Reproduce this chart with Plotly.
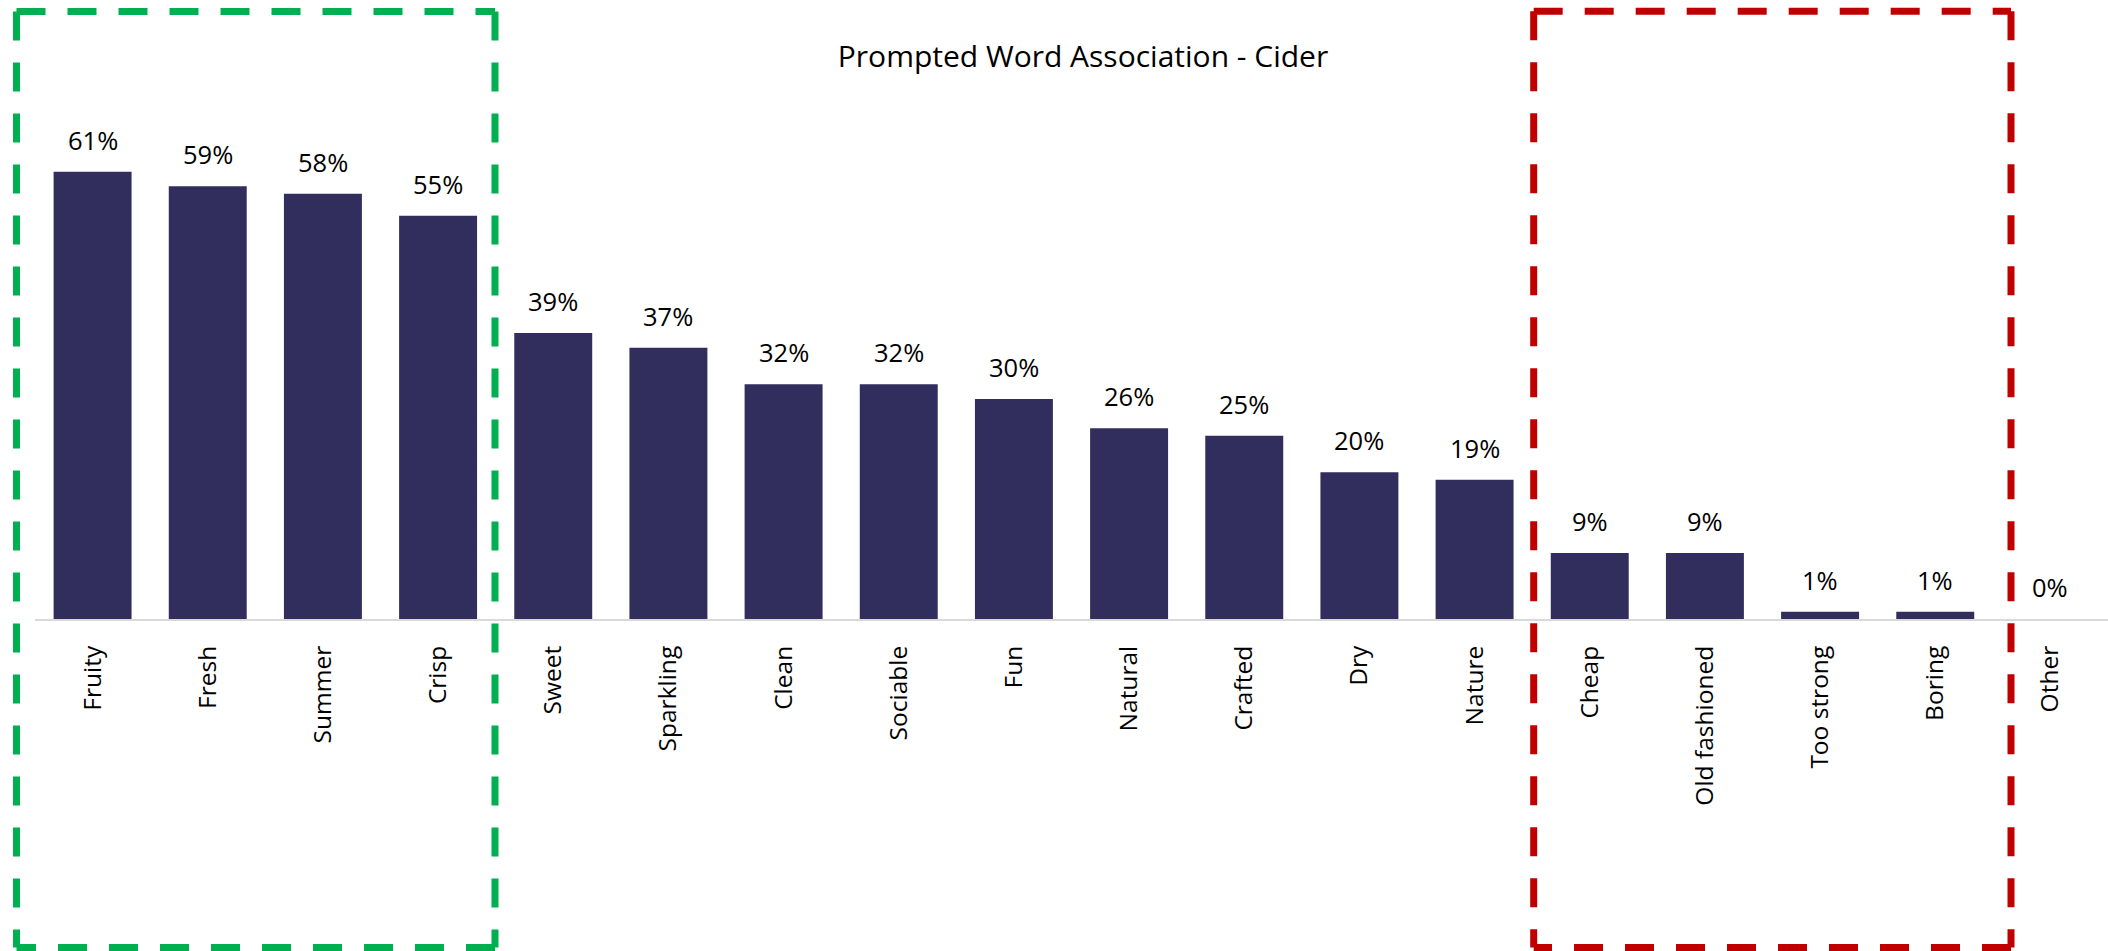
import plotly.graph_objects as go

# Survey results: share of respondents associating each word with cider
words = ["Fruity", "Fresh", "Summer", "Crisp", "Sweet", "Sparkling", "Clean",
         "Sociable", "Fun", "Natural", "Crafted", "Dry", "Nature", "Cheap",
         "Old fashioned", "Too strong", "Boring", "Other"]
share_pct = [61, 59, 58, 55, 39, 37, 32, 32, 30, 26, 25, 20, 19, 9, 9, 1, 1, 0]

BAR_COLOR = "#312E5E"
GREEN = "#00B050"
RED = "#C00000"
FONT = "Open Sans"

W, H = 2108, 951
ML, MR, MT, MB = 35, 0, 80, 332
plot_w = W - ML - MR
plot_h = H - MT - MB
Y_MAX = 73.5


def px_x(px):
    return (px - ML) / plot_w


def px_y(py):
    return (H - MB - py) / plot_h


fig = go.Figure(
    go.Bar(
        x=words,
        y=share_pct,
        marker=dict(color=BAR_COLOR, line=dict(width=0)),
        hoverinfo="x+y",
    )
)

# value labels above each bar
for w, v in zip(words, share_pct):
    fig.add_annotation(
        x=w, y=v, text=f"{v}%", showarrow=False,
        xref="x", yref="y", yanchor="bottom", yshift=13,
        font=dict(family=FONT, size=25.5, color="#000000"),
    )


def dashed_box(x0, x1, y0, y1, color, dash="29px,22px"):
    sides = [
        (x0, y1, x1, y1),  # top
        (x1, y0, x0, y0),  # bottom
        (x0, y1, x0, y0),  # left
        (x1, y1, x1, y0),  # right
    ]
    for ax, ay, bx, by in sides:
        fig.add_shape(
            type="line", xref="paper", yref="paper",
            x0=ax, y0=ay, x1=bx, y1=by,
            line=dict(color=color, width=7, dash=dash),
        )


# positive associations
dashed_box(px_x(16.5), px_x(495), px_y(947.5), px_y(11.5), GREEN)
# negative associations
dashed_box(px_x(1533.7), px_x(2011), px_y(947.5), px_y(11.2), RED)

fig.update_layout(
    width=W, height=H,
    margin=dict(l=ML, r=MR, t=MT, b=MB, pad=0),
    paper_bgcolor="white", plot_bgcolor="white",
    bargap=0.323,
    showlegend=False,
    title=dict(
        text="Prompted Word Association - Cider",
        x=1083 / W, xref="container", xanchor="center",
        y=1 - 56 / H, yref="container", yanchor="middle",
        font=dict(family=FONT, size=30, color="#000000"),
    ),
    font=dict(family=FONT, size=24.5, color="#000000"),
)

fig.update_xaxes(
    type="category",
    tickangle=-90,
    ticks="",
    showgrid=False,
    showline=True, linecolor="#D9D9D9", linewidth=2,
    tickfont=dict(family=FONT, size=24.5, color="#000000"),
    ticklabelstandoff=15,
)
fig.update_yaxes(
    range=[0, Y_MAX],
    visible=False,
    showgrid=False,
    zeroline=False,
)

fig.write_html("out.html")
